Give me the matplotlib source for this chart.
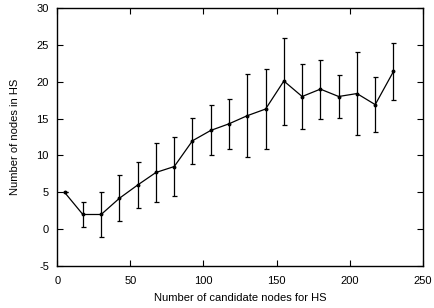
import matplotlib
matplotlib.use('Agg')
import matplotlib.pyplot as plt

plt.rcParams['font.family'] = ['Liberation Sans', 'DejaVu Sans']
plt.rcParams['axes.unicode_minus'] = False

# candidate nodes for HS
x_vals = [5, 17.5, 30, 42.5, 55, 67.5, 80, 92.5, 105, 117.5, 130, 142.5,
          155, 167.5, 180, 192.5, 205, 217.5, 230]
# mean number of nodes in HS
y_vals = [5.0, 2.0, 2.0, 4.2, 6.0, 7.7, 8.5, 12.0, 13.4, 14.3, 15.4, 16.3,
          20.1, 18.0, 19.0, 18.0, 18.4, 16.9, 21.4]
# error (+/-)
y_err = [0.0, 1.7, 3.0, 3.1, 3.1, 4.0, 4.0, 3.1, 3.4, 3.4, 5.6, 5.4,
         5.9, 4.4, 4.0, 2.9, 5.6, 3.7, 3.9]

fig = plt.figure(figsize=(4.34, 3.08), dpi=100)
ax = fig.add_axes([0.132, 0.136, 0.842, 0.838])

ax.errorbar(x_vals, y_vals, yerr=y_err, color='black', lw=0.9,
            elinewidth=0.9, capsize=1.8, capthick=0.9,
            marker='o', markersize=1.8)

ax.set_xlim(0, 250)
ax.set_ylim(-5, 30)
ax.set_xticks(range(0, 251, 50))
ax.set_yticks(range(-5, 31, 5))
ax.tick_params(direction='in', length=4, width=0.8, labelsize=8,
               top=True, right=True)
ax.tick_params(axis='x', pad=7)
ax.tick_params(axis='y', pad=6)
for s in ax.spines.values():
    s.set_linewidth(1.0)

ax.set_xlabel('Number of candidate nodes for HS', fontsize=8, labelpad=5)
ax.set_ylabel('Number of nodes in HS', fontsize=8, labelpad=12)

fig.savefig('out.png', dpi=100)
